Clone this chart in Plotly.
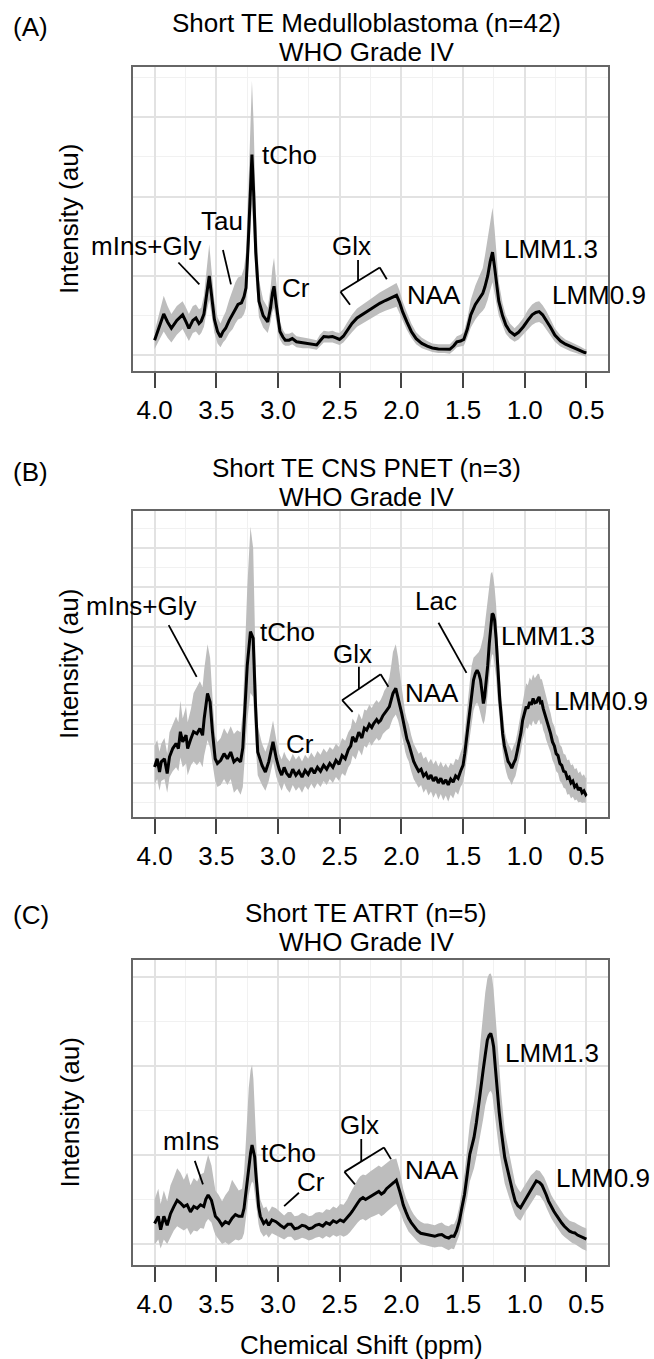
import plotly.graph_objects as go

# ---------------- Panel A : Medulloblastoma ----------------
a_ppm = [4.000, 3.960, 3.926, 3.895, 3.864, 3.820, 3.773, 3.745, 3.722, 3.690,
         3.665, 3.640, 3.622, 3.600, 3.578, 3.557, 3.540, 3.515, 3.490, 3.466,
         3.445, 3.424, 3.395, 3.367, 3.345, 3.324, 3.296, 3.275, 3.259, 3.240,
         3.225, 3.211, 3.197, 3.180, 3.154, 3.120, 3.083, 3.060, 3.045, 3.032,
         3.015, 2.998, 2.984, 2.960, 2.941, 2.910, 2.884, 2.850, 2.799, 2.750,
         2.686, 2.660, 2.629, 2.590, 2.558, 2.530, 2.501, 2.470, 2.444, 2.400,
         2.359, 2.310, 2.260, 2.220, 2.175, 2.130, 2.092, 2.060, 2.039, 2.015,
         1.990, 1.955, 1.919, 1.880, 1.834, 1.790, 1.749, 1.700, 1.650, 1.607,
         1.575, 1.550, 1.520, 1.494, 1.465, 1.437, 1.400, 1.366, 1.340, 1.323,
         1.300, 1.280, 1.261, 1.245, 1.228, 1.210, 1.180, 1.153, 1.120, 1.082,
         1.050, 1.011, 0.975, 0.940, 0.910, 0.883, 0.855, 0.826, 0.790, 0.756,
         0.710, 0.670, 0.630, 0.585, 0.550, 0.514, 0.500]
a_mean = [0.19, 0.36, 0.52, 0.42, 0.34, 0.44, 0.51, 0.42, 0.34, 0.44,
          0.47, 0.40, 0.43, 0.52, 0.78, 1.00, 0.78, 0.45, 0.30, 0.23,
          0.30, 0.34, 0.44, 0.51, 0.58, 0.64, 0.66, 0.74, 0.85, 1.45,
          2.10, 2.53, 2.05, 1.30, 0.68, 0.50, 0.42, 0.60, 0.78, 0.87,
          0.65, 0.42, 0.30, 0.23, 0.19, 0.19, 0.21, 0.17, 0.155, 0.15,
          0.13, 0.18, 0.235, 0.23, 0.235, 0.22, 0.20, 0.24, 0.30, 0.40,
          0.47, 0.52, 0.57, 0.61, 0.655, 0.69, 0.72, 0.745, 0.756, 0.67,
          0.55, 0.42, 0.30, 0.21, 0.15, 0.115, 0.092, 0.08, 0.08, 0.075,
          0.12, 0.17, 0.18, 0.20, 0.33, 0.51, 0.64, 0.72, 0.78, 0.86,
          1.00, 1.18, 1.30, 1.12, 0.88, 0.68, 0.50, 0.38, 0.30, 0.255,
          0.29, 0.36, 0.44, 0.51, 0.54, 0.55, 0.51, 0.445, 0.35, 0.255,
          0.18, 0.14, 0.11, 0.08, 0.06, 0.035, 0.03]
a_lo = [0.08, 0.20, 0.30, 0.22, 0.16, 0.26, 0.33, 0.25, 0.18, 0.28,
        0.30, 0.25, 0.28, 0.36, 0.55, 0.70, 0.52, 0.28, 0.15, 0.10,
        0.16, 0.20, 0.28, 0.33, 0.40, 0.45, 0.47, 0.52, 0.60, 1.05,
        1.55, 1.90, 1.50, 0.95, 0.48, 0.35, 0.28, 0.42, 0.55, 0.60,
        0.45, 0.28, 0.20, 0.14, 0.12, 0.12, 0.14, 0.10, 0.09, 0.09,
        0.07, 0.11, 0.16, 0.16, 0.16, 0.15, 0.13, 0.16, 0.21, 0.29,
        0.36, 0.40, 0.45, 0.49, 0.53, 0.56, 0.58, 0.60, 0.61, 0.53,
        0.43, 0.32, 0.22, 0.14, 0.09, 0.06, 0.04, 0.03, 0.03, 0.02,
        0.06, 0.10, 0.11, 0.12, 0.22, 0.35, 0.45, 0.52, 0.56, 0.60,
        0.70, 0.82, 0.92, 0.80, 0.64, 0.50, 0.37, 0.27, 0.21, 0.17,
        0.20, 0.26, 0.32, 0.38, 0.41, 0.42, 0.39, 0.33, 0.25, 0.17,
        0.11, 0.08, 0.05, 0.03, 0.01, -0.01, -0.02]
a_hi = [0.30, 0.55, 0.75, 0.62, 0.52, 0.62, 0.68, 0.60, 0.52, 0.62,
        0.64, 0.58, 0.60, 0.75, 1.10, 1.40, 1.10, 0.68, 0.48, 0.40,
        0.48, 0.55, 0.70, 0.82, 0.92, 0.98, 1.00, 1.10, 1.30, 2.10,
        2.95, 3.46, 2.90, 1.85, 0.95, 0.70, 0.60, 0.85, 1.10, 1.23,
        0.95, 0.60, 0.42, 0.32, 0.27, 0.27, 0.29, 0.24, 0.22, 0.21,
        0.19, 0.26, 0.31, 0.30, 0.31, 0.29, 0.28, 0.33, 0.40, 0.51,
        0.59, 0.64, 0.69, 0.74, 0.79, 0.83, 0.87, 0.90, 0.91, 0.82,
        0.68, 0.54, 0.40, 0.29, 0.22, 0.18, 0.15, 0.14, 0.14, 0.14,
        0.19, 0.24, 0.26, 0.29, 0.46, 0.70, 0.88, 1.00, 1.10, 1.25,
        1.48, 1.72, 1.86, 1.60, 1.22, 0.92, 0.66, 0.50, 0.40, 0.34,
        0.39, 0.47, 0.57, 0.64, 0.67, 0.68, 0.63, 0.56, 0.45, 0.34,
        0.25, 0.20, 0.17, 0.14, 0.11, 0.08, 0.08]

# ---------------- Panel B : CNS PNET ----------------
b_ppm = [4.000, 3.979, 3.960, 3.946, 3.920, 3.898, 3.879, 3.853, 3.826, 3.807,
         3.791, 3.772, 3.745, 3.732, 3.705, 3.684, 3.657, 3.633, 3.611, 3.598,
         3.571, 3.550, 3.531, 3.509, 3.491, 3.464, 3.437, 3.410, 3.383, 3.357,
         3.330, 3.303, 3.285, 3.271, 3.249, 3.223, 3.201, 3.182, 3.164, 3.129,
         3.102, 3.075, 3.040, 3.013,
         2.990, 2.970, 2.950, 2.930, 2.905, 2.880, 2.855, 2.830, 2.805, 2.780,
         2.755, 2.730, 2.705, 2.680, 2.655, 2.630, 2.605, 2.580, 2.555, 2.530,
         2.505, 2.480, 2.455, 2.430, 2.410, 2.395, 2.370, 2.345, 2.320, 2.300,
         2.281, 2.260, 2.240, 2.224, 2.200, 2.185, 2.168, 2.150, 2.139, 2.120,
         2.097, 2.080, 2.068, 2.045, 2.026, 2.010, 1.997, 1.980, 1.969, 1.955,
         1.940, 1.920, 1.900, 1.880, 1.860, 1.840, 1.820, 1.800, 1.780, 1.760,
         1.740, 1.720, 1.700, 1.680, 1.660, 1.640, 1.620, 1.600, 1.580, 1.560,
         1.540, 1.520, 1.500, 1.486, 1.470, 1.455, 1.443, 1.430, 1.415, 1.400,
         1.386, 1.372, 1.358, 1.345, 1.335, 1.325, 1.315, 1.300, 1.287, 1.275,
         1.264, 1.254, 1.244, 1.232, 1.222, 1.212, 1.202, 1.190, 1.179, 1.165,
         1.150, 1.135, 1.120, 1.105, 1.090, 1.075, 1.060, 1.045, 1.030, 1.017,
         1.003, 0.988, 0.975, 0.960, 0.946, 0.932, 0.918, 0.903, 0.893, 0.883,
         0.872, 0.861, 0.850, 0.838, 0.828, 0.818, 0.805, 0.790, 0.775, 0.760,
         0.745, 0.730, 0.715, 0.700, 0.685, 0.670, 0.655, 0.640, 0.625, 0.610,
         0.595, 0.580, 0.565, 0.550, 0.535, 0.520, 0.505, 0.500]
b_mean = [0.41, 0.62, 0.28, 0.54, 0.62, 0.24, 0.67, 0.88, 1.01, 0.88,
          1.31, 1.05, 1.22, 0.88, 1.14, 1.31, 1.26, 1.39, 1.22, 1.65,
          2.29, 2.07, 1.31, 0.62, 0.50, 0.58, 0.75, 0.62, 0.79, 0.54,
          0.62, 0.54, 0.90, 1.82, 3.01, 3.87, 3.70, 1.99, 0.79, 0.45,
          0.28, 0.54, 1.05, 0.62,
          0.35, 0.20, 0.40, 0.25, 0.15, 0.35, 0.20, 0.30, 0.15, 0.32,
          0.22, 0.38, 0.25, 0.40, 0.30, 0.45, 0.35, 0.50, 0.40, 0.58,
          0.48, 0.70, 0.62, 0.85, 0.95, 1.18, 1.05, 1.30, 1.15, 1.40,
          1.35, 1.50, 1.42, 1.52, 1.62, 1.55, 1.60, 1.72, 1.78, 1.85,
          1.95, 2.15, 2.29, 2.42, 2.20, 1.95, 1.78, 1.50, 1.26, 1.12,
          1.00, 0.75, 0.55, 0.42, 0.30, 0.35, 0.18, 0.25, 0.10, 0.20,
          0.05, 0.15, 0.00, 0.12, -0.02, 0.08, -0.05, 0.10, 0.02, 0.18,
          0.12, 0.30, 0.45, 0.75, 1.15, 1.50, 1.78, 2.20, 2.63, 2.80,
          2.88, 2.80, 2.63, 2.30, 2.03, 2.20, 2.46, 3.00, 3.57, 4.05,
          4.33, 4.30, 4.16, 3.70, 3.14, 2.60, 2.12, 1.70, 1.26, 0.95,
          0.72, 0.55, 0.48, 0.38, 0.50, 0.60, 0.82, 1.05, 1.30, 1.60,
          1.75, 1.95, 1.90, 2.07, 2.00, 2.16, 2.05, 2.07, 2.15, 2.20,
          2.05, 2.07, 1.90, 1.78, 1.65, 1.56, 1.40, 1.26, 1.05, 0.95,
          0.75, 0.70, 0.50, 0.45, 0.30, 0.28, 0.12, 0.15, 0.00, 0.05,
          -0.10, -0.05, -0.18, -0.12, -0.25, -0.20, -0.30, -0.28]
b_lo = [-0.05, 0.10, -0.20, 0.05, 0.10, -0.25, 0.15, 0.30, 0.40, 0.30,
        0.65, 0.40, 0.50, 0.20, 0.45, 0.55, 0.45, 0.55, 0.40, 0.70,
        1.10, 0.90, 0.55, 0.05, -0.10, -0.05, 0.10, -0.05, 0.10, -0.25,
        -0.15, -0.30, -0.10, 0.60, 1.60, 2.30, 2.20, 1.00, 0.20, -0.05,
        -0.20, 0.05, 0.55, 0.15,
        -0.05, -0.20, 0.00, -0.15, -0.25, -0.05, -0.20, -0.10, -0.25, -0.08,
        -0.18, -0.02, -0.15, 0.00, -0.10, 0.05, -0.05, 0.10, 0.00, 0.15,
        0.05, 0.25, 0.18, 0.40, 0.50, 0.70, 0.60, 0.85, 0.70, 0.95,
        0.90, 1.05, 0.95, 1.05, 1.15, 1.08, 1.12, 1.25, 1.30, 1.35,
        1.40, 1.55, 1.65, 1.75, 1.60, 1.40, 1.25, 1.00, 0.80, 0.65,
        0.55, 0.30, 0.10, 0.00, -0.12, -0.05, -0.25, -0.15, -0.32, -0.22,
        -0.38, -0.25, -0.42, -0.28, -0.45, -0.32, -0.48, -0.30, -0.40, -0.22,
        -0.30, -0.10, 0.00, 0.25, 0.60, 0.90, 1.15, 1.50, 1.85, 2.00,
        2.05, 1.95, 1.80, 1.60, 1.50, 1.60, 1.80, 2.20, 2.70, 3.10,
        3.30, 3.25, 3.10, 2.70, 2.25, 1.85, 1.50, 1.15, 0.80, 0.50,
        0.28, 0.12, 0.05, -0.05, 0.08, 0.18, 0.38, 0.60, 0.82, 1.10,
        1.25, 1.42, 1.38, 1.52, 1.45, 1.60, 1.50, 1.50, 1.58, 1.62,
        1.50, 1.52, 1.35, 1.25, 1.12, 1.05, 0.90, 0.78, 0.58, 0.48,
        0.30, 0.25, 0.05, 0.00, -0.12, -0.15, -0.30, -0.28, -0.40, -0.35,
        -0.45, -0.42, -0.50, -0.48, -0.51, -0.50, -0.51, -0.50]
b_hi = [0.95, 1.10, 0.80, 1.00, 1.15, 0.75, 1.30, 1.50, 1.70, 1.55,
        2.10, 1.65, 1.95, 1.55, 1.90, 2.30, 2.45, 2.60, 2.45, 2.90,
        3.55, 3.20, 2.20, 1.20, 1.05, 1.15, 1.40, 1.25, 1.45, 1.25,
        1.35, 1.30, 1.80, 3.20, 5.00, 6.55, 6.00, 3.20, 1.45, 1.00,
        0.80, 1.05, 1.60, 1.10,
        0.75, 0.60, 0.80, 0.65, 0.55, 0.75, 0.60, 0.70, 0.55, 0.72,
        0.62, 0.78, 0.65, 0.82, 0.72, 0.88, 0.78, 0.92, 0.85, 1.00,
        0.92, 1.15, 1.08, 1.30, 1.40, 1.65, 1.52, 1.78, 1.62, 1.88,
        1.85, 2.00, 1.92, 2.02, 2.12, 2.05, 2.12, 2.25, 2.35, 2.45,
        2.70, 3.05, 3.35, 3.55, 3.20, 2.75, 2.45, 2.10, 1.80, 1.62,
        1.50, 1.22, 1.00, 0.88, 0.75, 0.80, 0.62, 0.68, 0.52, 0.62,
        0.48, 0.58, 0.42, 0.55, 0.40, 0.50, 0.38, 0.52, 0.45, 0.62,
        0.58, 0.78, 0.95, 1.30, 1.85, 2.30, 2.65, 3.00, 3.20, 3.25,
        3.30, 3.35, 3.45, 3.60, 3.75, 4.00, 4.30, 4.70, 5.10, 5.35,
        5.40, 5.25, 5.00, 4.55, 3.90, 3.20, 2.70, 2.20, 1.75, 1.40,
        1.15, 1.00, 0.92, 0.82, 0.95, 1.05, 1.28, 1.55, 1.82, 2.15,
        2.30, 2.55, 2.50, 2.70, 2.62, 2.78, 2.68, 2.75, 2.80, 2.78,
        2.65, 2.65, 2.50, 2.35, 2.22, 2.10, 1.95, 1.78, 1.55, 1.45,
        1.25, 1.18, 0.98, 0.92, 0.75, 0.72, 0.58, 0.60, 0.45, 0.48,
        0.35, 0.38, 0.25, 0.30, 0.18, 0.22, 0.12, 0.14]

# ---------------- Panel C : ATRT ----------------
c_ppm = [4.000, 3.970, 3.951, 3.925, 3.898, 3.871, 3.844, 3.817, 3.790, 3.763,
         3.736, 3.709, 3.682, 3.655, 3.628, 3.601, 3.585, 3.566, 3.539, 3.520,
         3.507, 3.480, 3.453, 3.426, 3.399, 3.372, 3.345, 3.318, 3.291, 3.275,
         3.264, 3.250, 3.237, 3.222, 3.210, 3.199, 3.189, 3.180, 3.170, 3.157,
         3.143, 3.116, 3.095, 3.075, 3.049, 3.016, 2.981, 2.950, 2.920, 2.893,
         2.865, 2.836, 2.805, 2.779, 2.750, 2.723, 2.695, 2.666, 2.637, 2.609,
         2.580, 2.552, 2.525, 2.496, 2.468, 2.439, 2.418, 2.396, 2.375, 2.354,
         2.333, 2.311, 2.290, 2.268, 2.247, 2.226, 2.205, 2.183, 2.162, 2.141,
         2.120, 2.098, 2.080, 2.061, 2.041, 2.027, 2.013, 1.999, 1.985, 1.963,
         1.942, 1.920, 1.899, 1.870, 1.843, 1.815, 1.786, 1.758, 1.729, 1.700,
         1.672, 1.645, 1.616, 1.595, 1.573, 1.552, 1.530, 1.510, 1.488, 1.466,
         1.445, 1.428, 1.411, 1.392, 1.374, 1.355, 1.337, 1.320, 1.303, 1.289,
         1.275, 1.263, 1.252, 1.238, 1.224, 1.207, 1.190, 1.176, 1.162, 1.140,
         1.119, 1.098, 1.077, 1.055, 1.034, 1.012, 0.991, 0.970, 0.949, 0.927,
         0.906, 0.878, 0.860, 0.843, 0.825, 0.807, 0.785, 0.764, 0.742, 0.721,
         0.700, 0.679, 0.657, 0.636, 0.615, 0.594, 0.572, 0.551, 0.530, 0.508,
         0.500]
c_mean = [0.23, 0.31, 0.16, 0.31, 0.21, 0.34, 0.42, 0.49, 0.46, 0.42,
          0.44, 0.36, 0.42, 0.40, 0.44, 0.42, 0.50, 0.55, 0.49, 0.38,
          0.31, 0.27, 0.21, 0.25, 0.23, 0.29, 0.33, 0.31, 0.31, 0.40,
          0.53, 0.70, 0.87, 1.02, 1.11, 1.05, 0.98, 0.80, 0.61, 0.42,
          0.31, 0.23, 0.26, 0.21, 0.27, 0.25, 0.21, 0.18, 0.22, 0.22,
          0.17, 0.18, 0.21, 0.20, 0.17, 0.18, 0.21, 0.22, 0.20, 0.24,
          0.22, 0.26, 0.24, 0.27, 0.25, 0.29, 0.33, 0.37, 0.42, 0.46,
          0.50, 0.52, 0.50, 0.52, 0.54, 0.56, 0.57, 0.59, 0.56, 0.58,
          0.62, 0.65, 0.67, 0.69, 0.715, 0.66, 0.59, 0.52, 0.44, 0.36,
          0.29, 0.24, 0.20, 0.15, 0.12, 0.11, 0.105, 0.09, 0.086, 0.10,
          0.105, 0.08, 0.067, 0.09, 0.086, 0.15, 0.255, 0.40, 0.556, 0.78,
          1.008, 1.10, 1.196, 1.36, 1.535, 1.74, 1.949, 2.12, 2.288, 2.34,
          2.363, 2.30, 2.213, 1.98, 1.723, 1.48, 1.272, 1.12, 0.971, 0.84,
          0.707, 0.59, 0.481, 0.43, 0.406, 0.46, 0.519, 0.56, 0.613, 0.66,
          0.707, 0.688, 0.66, 0.613, 0.55, 0.481, 0.42, 0.368, 0.32, 0.274,
          0.235, 0.199, 0.17, 0.143, 0.13, 0.124, 0.10, 0.086, 0.075, 0.06,
          0.055]
c_lo = [-0.01, 0.05, -0.05, 0.05, 0.00, 0.08, 0.15, 0.20, 0.18, 0.15,
        0.18, 0.10, 0.15, 0.14, 0.18, 0.17, 0.24, 0.28, 0.24, 0.15,
        0.10, 0.05, 0.00, 0.02, -0.01, 0.02, 0.05, 0.04, 0.06, 0.12,
        0.25, 0.40, 0.55, 0.65, 0.70, 0.68, 0.62, 0.50, 0.38, 0.22,
        0.14, 0.08, 0.11, 0.07, 0.12, 0.10, 0.07, 0.05, 0.08, 0.08,
        0.04, 0.05, 0.07, 0.06, 0.04, 0.05, 0.07, 0.08, 0.06, 0.09,
        0.07, 0.10, 0.08, 0.10, 0.08, 0.10, 0.13, 0.16, 0.20, 0.24,
        0.27, 0.28, 0.26, 0.28, 0.30, 0.31, 0.32, 0.34, 0.31, 0.33,
        0.36, 0.39, 0.41, 0.43, 0.45, 0.42, 0.37, 0.32, 0.26, 0.20,
        0.14, 0.10, 0.07, 0.03, 0.00, -0.01, -0.02, -0.03, -0.04, -0.03,
        -0.03, -0.05, -0.07, -0.05, -0.06, 0.02, 0.10, 0.22, 0.35, 0.52,
        0.70, 0.78, 0.85, 0.98, 1.10, 1.25, 1.40, 1.55, 1.65, 1.70,
        1.72, 1.68, 1.62, 1.45, 1.25, 1.05, 0.90, 0.78, 0.68, 0.58,
        0.48, 0.40, 0.32, 0.28, 0.26, 0.31, 0.37, 0.41, 0.45, 0.50,
        0.55, 0.54, 0.51, 0.47, 0.41, 0.35, 0.29, 0.24, 0.19, 0.15,
        0.11, 0.08, 0.05, 0.03, 0.01, 0.00, -0.02, -0.04, -0.06, -0.07,
        -0.08]
c_hi = [0.50, 0.62, 0.45, 0.60, 0.48, 0.66, 0.75, 0.85, 0.80, 0.72,
        0.80, 0.66, 0.74, 0.70, 0.78, 0.80, 0.90, 1.00, 0.88, 0.70,
        0.60, 0.55, 0.48, 0.55, 0.60, 0.72, 0.66, 0.60, 0.62, 0.80,
        1.05, 1.40, 1.75, 1.95, 2.01, 1.85, 1.60, 1.25, 0.95, 0.65,
        0.50, 0.40, 0.42, 0.36, 0.42, 0.40, 0.36, 0.32, 0.36, 0.36,
        0.31, 0.32, 0.35, 0.34, 0.31, 0.32, 0.35, 0.36, 0.35, 0.39,
        0.38, 0.42, 0.40, 0.45, 0.44, 0.50, 0.56, 0.62, 0.68, 0.72,
        0.76, 0.78, 0.77, 0.80, 0.82, 0.84, 0.86, 0.88, 0.86, 0.88,
        0.90, 0.93, 0.95, 0.95, 0.96, 0.90, 0.82, 0.72, 0.62, 0.52,
        0.44, 0.38, 0.33, 0.28, 0.25, 0.23, 0.23, 0.22, 0.21, 0.23,
        0.24, 0.21, 0.20, 0.22, 0.22, 0.29, 0.42, 0.60, 0.80, 1.08,
        1.35, 1.48, 1.60, 1.80, 2.05, 2.35, 2.62, 2.82, 2.98, 3.03,
        3.035, 2.98, 2.85, 2.58, 2.25, 1.95, 1.68, 1.48, 1.28, 1.12,
        0.96, 0.82, 0.68, 0.62, 0.58, 0.63, 0.68, 0.73, 0.77, 0.80,
        0.83, 0.82, 0.79, 0.75, 0.69, 0.62, 0.55, 0.50, 0.45, 0.40,
        0.36, 0.32, 0.29, 0.26, 0.25, 0.24, 0.22, 0.20, 0.19, 0.18,
        0.17]

# ---------------- Text ----------------
panel_tags = ["(A)", "(B)", "(C)"]
titles_line1 = ["Short TE Medulloblastoma (n=42)", "Short TE CNS PNET (n=3)", "Short TE ATRT (n=5)"]
titles_line2 = ["WHO Grade IV", "WHO Grade IV", "WHO Grade IV"]
x_tick_vals = [4.0, 3.5, 3.0, 2.5, 2.0, 1.5, 1.0, 0.5]
x_tick_text = ["4.0", "3.5", "3.0", "2.5", "2.0", "1.5", "1.0", "0.5"]
y_title = "Intensity (au)"
x_title = "Chemical Shift (ppm)"

# peak labels: (text, ppm, intensity, horizontal anchor)
labels_a = [("mIns+Gly", 3.596, 1.38, "right"), ("Tau", 3.452, 1.69, "center"), ("tCho", 2.91, 2.52, "center"),
            ("Cr", 2.856, 0.85, "center"), ("Glx", 2.402, 1.374, "center"), ("NAA", 1.735, 0.756, "center"),
            ("LMM1.3", 0.784, 1.34, "center"), ("LMM0.9", 0.40, 0.756, "center")]
labels_b = [("mIns+Gly", 3.641, 4.52, "right"), ("tCho", 2.92, 3.85, "center"), ("Cr", 2.82, 1.0, "center"),
            ("Glx", 2.395, 3.31, "center"), ("NAA", 1.75, 2.305, "center"), ("Lac", 1.721, 4.66, "center"),
            ("LMM1.3", 0.812, 3.755, "center"), ("LMM0.9", 0.378, 2.10, "center")]
labels_c = [("mIns", 3.702, 1.151, "center"), ("tCho", 2.916, 1.016, "center"), ("Cr", 2.731, 0.70, "center"),
            ("Glx", 2.339, 1.339, "center"), ("NAA", 1.752, 0.827, "center"), ("LMM1.3", 0.778, 2.145, "center"),
            ("LMM0.9", 0.367, 0.737, "center")]

# leader lines / brackets: polylines of (ppm, intensity)
leaders_a = [[(3.807, 1.169), (3.637, 0.893)],
             [(3.446, 1.327), (3.381, 0.893)],
             [(2.416, 0.637), (2.493, 0.799), (2.175, 1.106), (2.118, 0.957)],
             [(2.351, 0.935), (2.351, 1.199)]]
leaders_b = [[(3.886, 4.037), (3.659, 2.714)],
             [(1.699, 4.096), (1.472, 2.816)],
             [(2.395, 1.818), (2.480, 2.117), (2.168, 2.782), (2.105, 2.458)],
             [(2.344, 2.407), (2.344, 2.97)]]
leaders_c = [[(3.674, 0.933), (3.608, 0.669)],
             [(2.950, 0.425), (2.830, 0.575)],
             [(2.376, 0.669), (2.461, 0.809), (2.141, 1.083), (2.084, 0.952)],
             [(2.325, 0.925), (2.325, 1.178)]]

# ---------------- Layout geometry (pixels) ----------------
W, H = 654, 1359
FONT = "Liberation Sans, Arial, Helvetica, sans-serif"
FS = 26
panels = [
    dict(ppm=a_ppm, mean=a_mean, lo=a_lo, hi=a_hi, top=67, bot=371, yr=[-0.198, 3.632],
         labels=labels_a, leaders=leaders_a, tag_y=27, t1=23, t2=52),
    dict(ppm=b_ppm, mean=b_mean, lo=b_lo, hi=b_hi, top=511, bot=817, yr=[-0.870, 6.954],
         labels=labels_b, leaders=leaders_b, tag_y=472, t1=468, t2=497),
    dict(ppm=c_ppm, mean=c_mean, lo=c_lo, hi=c_hi, top=960, bot=1265, yr=[-0.236, 3.187],
         labels=labels_c, leaders=leaders_c, tag_y=915, t1=913, t2=942),
]
X_LEFT, X_RIGHT = 133, 608

fig = go.Figure()
annotations = []
shapes = []
layout_axes = {}

def py(p):
    return 1 - p / H

def txt_font():
    return dict(family=FONT, size=FS, color="black")

for i, p in enumerate(panels):
    n = "" if i == 0 else str(i + 1)
    xa, ya = "x" + n, "y" + n
    # ribbon
    fig.add_trace(go.Scatter(
        x=list(p["ppm"]) + list(p["ppm"])[::-1],
        y=list(p["hi"]) + list(p["lo"])[::-1],
        fill="toself", fillcolor="#bdbdbd", line=dict(width=0),
        mode="lines", hoverinfo="skip", xaxis=xa, yaxis=ya, showlegend=False))
    # mean
    fig.add_trace(go.Scatter(
        x=p["ppm"], y=p["mean"], mode="lines",
        line=dict(color="black", width=3), xaxis=xa, yaxis=ya, showlegend=False))

    layout_axes["xaxis" + n] = dict(
        domain=[X_LEFT / W, X_RIGHT / W], range=[4.175, 0.325], anchor=ya,
        tickmode="array", tickvals=x_tick_vals, ticktext=x_tick_text,
        ticks="outside", ticklen=15, tickwidth=1.5, tickcolor="#444444",
        tickfont=txt_font(),
        showgrid=True, gridcolor="#e2e2e2", gridwidth=1.6,
        minor=dict(tickvals=[3.75, 3.25, 2.75, 2.25, 1.75, 1.25, 0.75],
                   showgrid=True, gridcolor="#f1f1f1", gridwidth=1.1, ticks=""),
        showline=True, mirror=True, linecolor="#666666", linewidth=1.5,
        zeroline=False, fixedrange=True)
    layout_axes["yaxis" + n] = dict(
        domain=[py(p["bot"]), py(p["top"])], range=p["yr"], anchor=xa,
        tick0=0, dtick=1, showticklabels=False, ticks="",
        showgrid=True, gridcolor="#e2e2e2", gridwidth=1.6,
        minor=dict(tick0=0.5, dtick=1, showgrid=True, gridcolor="#f1f1f1", gridwidth=1.1, ticks=""),
        showline=True, mirror=True, linecolor="#666666", linewidth=1.5,
        zeroline=False, fixedrange=True)

    # panel tag and titles
    annotations.append(dict(text=panel_tags[i], x=30.5 / W, y=py(p["tag_y"]), xref="paper", yref="paper",
                            showarrow=False, xanchor="center", yanchor="middle", font=txt_font()))
    annotations.append(dict(text=titles_line1[i], x=366 / W, y=py(p["t1"]), xref="paper", yref="paper",
                            showarrow=False, xanchor="center", yanchor="middle", font=txt_font()))
    annotations.append(dict(text=titles_line2[i], x=366 / W, y=py(p["t2"]), xref="paper", yref="paper",
                            showarrow=False, xanchor="center", yanchor="middle", font=txt_font()))
    # y title
    annotations.append(dict(text=y_title, x=69 / W, y=py((p["top"] + p["bot"]) / 2), xref="paper", yref="paper",
                            showarrow=False, xanchor="center", yanchor="middle", textangle=-90, font=txt_font()))
    # peak labels
    for txt, lx, ly, anc in p["labels"]:
        annotations.append(dict(text=txt, x=lx, y=ly, xref=xa, yref=ya, showarrow=False,
                                xanchor=anc, yanchor="middle", font=txt_font()))
    # leader lines
    for poly in p["leaders"]:
        for (x0, y0), (x1, y1) in zip(poly[:-1], poly[1:]):
            shapes.append(dict(type="line", xref=xa, yref=ya, x0=x0, y0=y0, x1=x1, y1=y1,
                               line=dict(color="black", width=1.8)))

annotations.append(dict(text=x_title, x=361 / W, y=py(1345), xref="paper", yref="paper",
                        showarrow=False, xanchor="center", yanchor="middle", font=txt_font()))

fig.update_layout(width=W, height=H, margin=dict(l=0, r=0, t=0, b=0),
                  paper_bgcolor="white", plot_bgcolor="white", showlegend=False,
                  annotations=annotations, shapes=shapes, **layout_axes)

fig.write_html("out.html", config={"displayModeBar": False},
               post_script="document.body.style.margin='0';")
